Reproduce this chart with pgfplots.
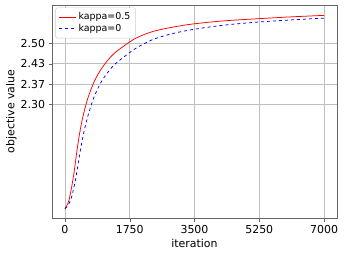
\documentclass[border=0pt]{standalone}
\usepackage{fontspec}
\setmainfont{DejaVu Sans}
\usepackage{pgfplots}
\pgfplotsset{compat=1.18}

\begin{document}
\begin{tikzpicture}
\begin{axis}[scale only axis, width=285bp, height=213bp,
	xmin=-350, xmax=7350, ymin=1.927, ymax=2.626,
	xtick={0,1750,3500,5250,7000},
	ytick={2.3,2.36667,2.43333,2.5},
	yticklabels={2.30,2.37,2.43,2.50},
	/pgf/number format/assume math mode=true,
	/pgf/number format/1000 sep={},
	xtick pos=bottom, ytick pos=left,
	tick label style={font=\fontsize{11}{12}\selectfont},
	label style={font=\fontsize{11}{12}\selectfont},
	xlabel={iteration}, ylabel={objective value},
	xlabel style={yshift=1bp}, ylabel style={yshift=-3bp},
	grid=major, grid style={black!25, line width=0.6bp},
	axis line style={black!60, line width=0.8bp},
	tick style={black!60}, tick align=outside, major tick length=3.5bp,
	legend style={draw=black!20, rounded corners=1.5bp,
		nodes={font=\fontsize{9.5}{10}\selectfont},
		at={(0.012,0.988)}, anchor=north west, row sep=-1bp, inner sep=3bp},
	legend image post style={line width=0.9bp},
	legend cell align=left]
\addplot[color=red, line width=0.75bp, smooth] coordinates {
(0,1.958) (50,1.968) (108,1.985) (175,2.025) (242,2.073) (310,2.135) (376,2.190)
(445,2.237) (511,2.273) (580,2.304) (645,2.330) (780,2.372) (900,2.400) (1049,2.428)
(1318,2.466) (1750,2.505) (2000,2.522) (2400,2.540) (2900,2.553) (3470,2.564)
(4300,2.574) (5219,2.581) (6100,2.587) (7000,2.592)};
\addlegendentry{kappa=0.5}
\addplot[color=blue, dashed, line width=0.75bp, smooth] coordinates {
(0,1.958) (70,1.966) (150,1.985) (215,2.013) (283,2.051) (350,2.100) (417,2.150)
(510,2.208) (597,2.252) (690,2.290) (780,2.322) (900,2.355) (1049,2.387) (1318,2.428)
(1750,2.470) (2000,2.490) (2400,2.514) (2900,2.532) (3470,2.546) (4300,2.560)
(5219,2.570) (6100,2.577) (7000,2.583)};
\addlegendentry{kappa=0}
\end{axis}
\path ([xshift=-52bp,yshift=-38bp]current axis.south west) rectangle ([xshift=9bp,yshift=5bp]current axis.north east);
\end{tikzpicture}
\end{document}
